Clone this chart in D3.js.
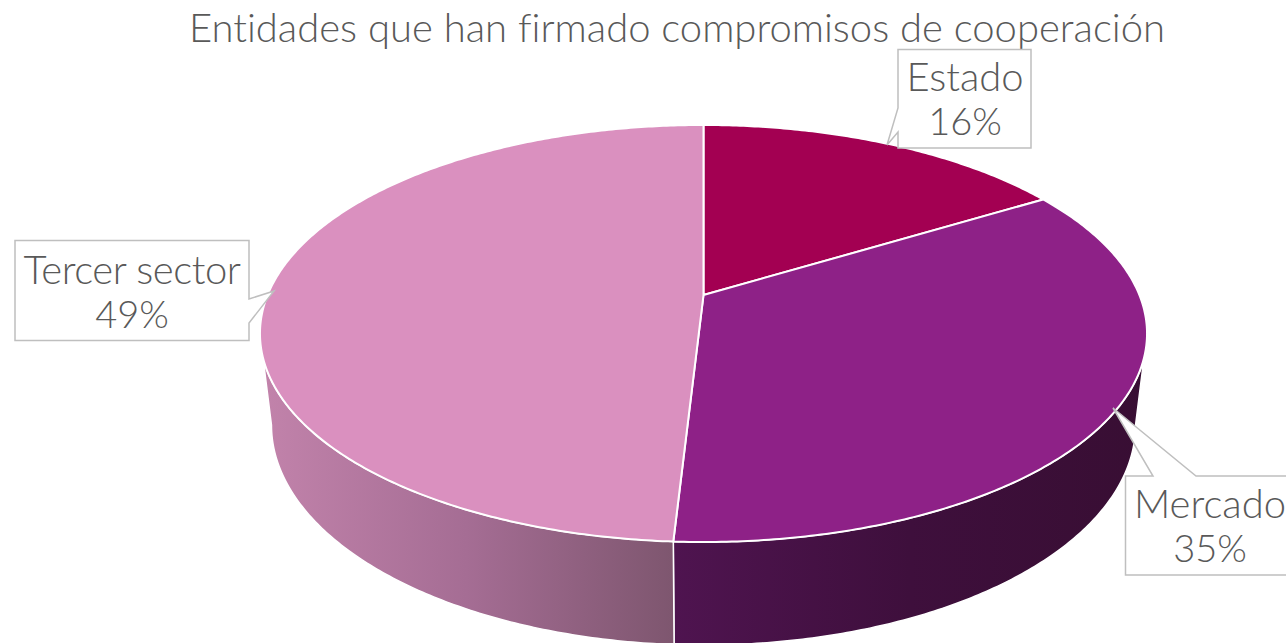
<!DOCTYPE html>
<html><head><meta charset="utf-8">
<script src="https://cdn.jsdelivr.net/npm/d3@7/dist/d3.min.js"></script>
<style>html,body{margin:0;padding:0;background:#fff;overflow:hidden}svg{display:block}
text{font-family:Lato,"Open Sans",sans-serif;font-weight:300;fill:#595959;font-variant-ligatures:none}</style>
</head><body><svg id="c" width="1286" height="643"></svg>
<script>
const titleText = "Entidades que han firmado compromisos de cooperación";
const categories = ["Estado", "Mercado", "Tercer sector"];
const values = [16.3, 34.6, 49.1];
const topColors = ["#A30052", "#8E2187", "#DA90BF"];
const wallStops = [
  [["0","#4F1450"],["0.5","#3E0F3C"],["1","#380E33"]],
  [["0","#C283AB"],["0.5","#A56D94"],["1","#7E566F"]]
];

const svg = d3.select("#c");

// Perspective projection of a disc (angle clockwise from top)
const persp = -0.1847;
const topFace = {cx:703.5, cy:295, R:435.9, S:201.4};
const botFace = {cx:703.5, cy:384.4, R:424.6, S:212.5};
function project(f, a){
  const u = Math.sin(a), v = -Math.cos(a), w = 1 + persp*v;
  return [f.cx + f.R*u/w, f.cy + f.S*v/w];
}
const arcPts = (f,a0,a1) => {
  const n = Math.max(2, Math.ceil(Math.abs(a1-a0)/0.01));
  return d3.range(n+1).map(i => project(f, a0+(a1-a0)*i/n));
};
const line = d3.line();

const arcs = d3.pie().sort(null).value(d=>d)(values);
const visR = Math.acos(persp);
const visL = 2*Math.PI - visR;

const defs = svg.append("defs");

// side walls
const wallSegments = [
  {idx:1, a0:Math.max(arcs[1].startAngle,visR), a1:Math.min(arcs[1].endAngle,visL), x1:673, x2:1147},
  {idx:2, a0:Math.max(arcs[2].startAngle,visR), a1:Math.min(arcs[2].endAngle,visL), x1:260, x2:673}
];
wallSegments.forEach((s,i)=>{
  const g = defs.append("linearGradient").attr("id","wall"+i)
    .attr("gradientUnits","userSpaceOnUse").attr("x1",s.x1).attr("x2",s.x2).attr("y1",0).attr("y2",0);
  wallStops[i].forEach(st=>g.append("stop").attr("offset",st[0]).attr("stop-color",st[1]));
  const pts = arcPts(topFace,s.a0,s.a1).concat(arcPts(botFace,s.a1,s.a0));
  svg.append("path").attr("d",line(pts)+"Z").attr("fill",`url(#wall${i})`)
     .attr("stroke","#fff").attr("stroke-width",1.5).attr("stroke-linejoin","round");
});

// top face
svg.selectAll("path.slice").data(arcs).join("path").attr("class","slice")
  .attr("d",d=>line([[topFace.cx,topFace.cy]].concat(arcPts(topFace,d.startAngle,d.endAngle)))+"Z")
  .attr("fill",(d,i)=>topColors[i]).attr("stroke","#fff").attr("stroke-width",2).attr("stroke-linejoin","round");

// title
svg.append("text").attr("x",677).attr("y",42).attr("text-anchor","middle")
  .attr("font-size",40).text(titleText);

// callouts
const callouts = [
  {path:[[898,49.5],[1031,49.5],[1031,148],[898,148],[898,132],[887,145],[898,108]], tx:965, ty:91, ls:0},
  {path:[[1125.5,476],[1153,476],[1113,408],[1196,476],[1300,476],[1300,575],[1125.5,575]], tx:1210, ty:518, ls:0},
  {path:[[15,240.5],[249,240.5],[249,299],[274,291],[249,323],[249,340.5],[15,340.5]], tx:132, ty:284, ls:-0.4}
];
callouts.forEach((c,i)=>{
  svg.append("path").attr("d",line(c.path)+"Z").attr("fill","#fff").attr("stroke","#BFBFBF").attr("stroke-width",1.5);
  const t = svg.append("text").attr("text-anchor","middle").attr("font-size",40);
  t.append("tspan").attr("x",c.tx).attr("y",c.ty).attr("letter-spacing",c.ls).text(categories[i]);
  t.append("tspan").attr("x",c.tx).attr("y",c.ty+44).attr("font-size",38).text(d3.format(".0f")(values[i])+"%");
});
</script></body></html>
